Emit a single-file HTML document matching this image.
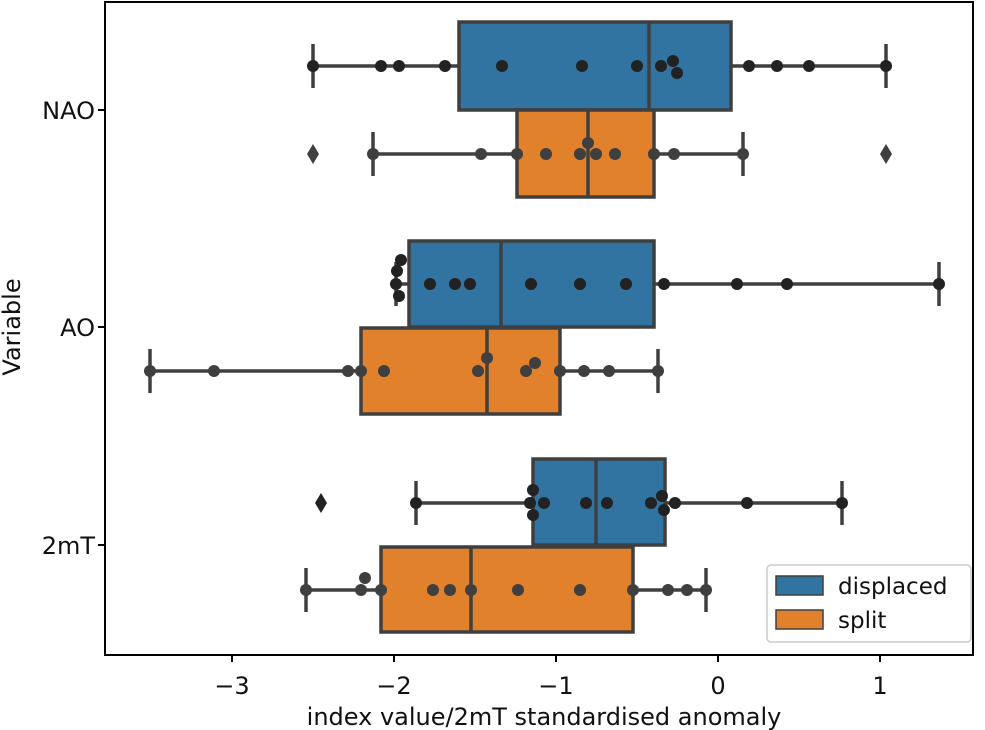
<!DOCTYPE html>
<html><head><style>body{margin:0;background:#fff}svg{display:block}text{font-family:"DejaVu Sans","Liberation Sans",sans-serif;fill:#111}</style></head>
<body>
<svg width="985" height="730" viewBox="0 0 985 730" xmlns="http://www.w3.org/2000/svg">
<g stroke="#3f3f3f" stroke-width="3.5" fill="none">
<line x1="313" y1="66" x2="459" y2="66"/><line x1="731" y1="66" x2="886" y2="66"/>
<line x1="313" y1="44" x2="313" y2="88"/><line x1="886" y1="44" x2="886" y2="88"/>
<rect x="459" y="22" width="272" height="88" fill="#3274a1"/><line x1="649" y1="22" x2="649" y2="110"/>
<line x1="373" y1="154" x2="517" y2="154"/><line x1="654" y1="154" x2="743" y2="154"/>
<line x1="373" y1="132" x2="373" y2="176"/><line x1="743" y1="132" x2="743" y2="176"/>
<rect x="517" y="110" width="137" height="87" fill="#e1812c"/><line x1="588" y1="110" x2="588" y2="197"/>
<line x1="396" y1="284" x2="409" y2="284"/><line x1="654" y1="284" x2="939" y2="284"/>
<line x1="396" y1="262" x2="396" y2="306"/><line x1="939" y1="262" x2="939" y2="306"/>
<rect x="409" y="241" width="245" height="86" fill="#3274a1"/><line x1="501" y1="241" x2="501" y2="327"/>
<line x1="150" y1="371" x2="361" y2="371"/><line x1="560" y1="371" x2="658" y2="371"/>
<line x1="150" y1="349" x2="150" y2="393"/><line x1="658" y1="349" x2="658" y2="393"/>
<rect x="361" y="328" width="199" height="86" fill="#e1812c"/><line x1="487" y1="328" x2="487" y2="414"/>
<line x1="416" y1="503" x2="533" y2="503"/><line x1="665" y1="503" x2="842" y2="503"/>
<line x1="416" y1="481" x2="416" y2="525"/><line x1="842" y1="481" x2="842" y2="525"/>
<rect x="533" y="459" width="132" height="86" fill="#3274a1"/><line x1="596" y1="459" x2="596" y2="545"/>
<line x1="306" y1="590" x2="381" y2="590"/><line x1="633" y1="590" x2="706" y2="590"/>
<line x1="306" y1="568" x2="306" y2="612"/><line x1="706" y1="568" x2="706" y2="612"/>
<rect x="381" y="547" width="252" height="85" fill="#e1812c"/><line x1="471" y1="547" x2="471" y2="632"/>
</g>
<g fill="#3f3f3f">
<polygon points="313,144 319,154 313,164 307,154"/>
<polygon points="886,144 892,154 886,164 880,154"/>
<polygon points="321,493 327,503 321,513 315,503" fill="#222"/>
</g>
<g fill="#222">
<circle cx="313" cy="66" r="6"/><circle cx="381" cy="66" r="6"/><circle cx="399" cy="66" r="6"/><circle cx="445" cy="66" r="6"/><circle cx="502" cy="66" r="6"/><circle cx="582" cy="66" r="6"/><circle cx="637" cy="66" r="6"/><circle cx="661" cy="66" r="6"/><circle cx="673" cy="61" r="6"/><circle cx="677" cy="73" r="6"/><circle cx="749" cy="66" r="6"/><circle cx="777" cy="66" r="6"/><circle cx="809" cy="66" r="6"/><circle cx="886" cy="66" r="6"/>
<circle cx="396" cy="284" r="6"/><circle cx="397" cy="271" r="6"/><circle cx="401" cy="260" r="6"/><circle cx="399" cy="296" r="6"/><circle cx="430" cy="284" r="6"/><circle cx="455" cy="284" r="6"/><circle cx="470" cy="284" r="6"/><circle cx="531" cy="284" r="6"/><circle cx="580" cy="284" r="6"/><circle cx="626" cy="284" r="6"/><circle cx="664" cy="284" r="6"/><circle cx="737" cy="284" r="6"/><circle cx="787" cy="284" r="6"/><circle cx="939" cy="284" r="6"/>
<circle cx="416" cy="503" r="6"/><circle cx="530" cy="503" r="6"/><circle cx="533" cy="490" r="6"/><circle cx="533" cy="515" r="6"/><circle cx="544" cy="503" r="6"/><circle cx="586" cy="503" r="6"/><circle cx="607" cy="503" r="6"/><circle cx="651" cy="503" r="6"/><circle cx="662" cy="496" r="6"/><circle cx="664" cy="510" r="6"/><circle cx="675" cy="503" r="6"/><circle cx="747" cy="503" r="6"/><circle cx="842" cy="503" r="6"/>
</g>
<g fill="#3f3f3f">
<circle cx="373" cy="154" r="6"/><circle cx="481" cy="154" r="6"/><circle cx="517" cy="154" r="6"/><circle cx="546" cy="154" r="6"/><circle cx="580" cy="154" r="6"/><circle cx="588" cy="143" r="6"/><circle cx="596" cy="154" r="6"/><circle cx="615" cy="154" r="6"/><circle cx="654" cy="154" r="6"/><circle cx="674" cy="154" r="6"/><circle cx="743" cy="154" r="6"/>
<circle cx="150" cy="371" r="6"/><circle cx="214" cy="371" r="6"/><circle cx="348" cy="371" r="6"/><circle cx="361" cy="371" r="6"/><circle cx="384" cy="371" r="6"/><circle cx="478" cy="371" r="6"/><circle cx="487" cy="358" r="6"/><circle cx="526" cy="371" r="6"/><circle cx="535" cy="363" r="6"/><circle cx="560" cy="371" r="6"/><circle cx="584" cy="371" r="6"/><circle cx="609" cy="371" r="6"/><circle cx="658" cy="371" r="6"/>
<circle cx="306" cy="590" r="6"/><circle cx="361" cy="590" r="6"/><circle cx="365" cy="578" r="6"/><circle cx="381" cy="590" r="6"/><circle cx="433" cy="590" r="6"/><circle cx="450" cy="590" r="6"/><circle cx="471" cy="590" r="6"/><circle cx="518" cy="590" r="6"/><circle cx="580" cy="590" r="6"/><circle cx="633" cy="590" r="6"/><circle cx="668" cy="590" r="6"/><circle cx="687" cy="590" r="6"/><circle cx="706" cy="590" r="6"/>
</g>
<rect x="105" y="2" width="868" height="653" fill="none" stroke="#000" stroke-width="2"/>
<g stroke="#000" stroke-width="2">
<line x1="98" y1="110" x2="105" y2="110"/><line x1="98" y1="327" x2="105" y2="327"/><line x1="98" y1="545" x2="105" y2="545"/>
<line x1="232" y1="655" x2="232" y2="662"/><line x1="394" y1="655" x2="394" y2="662"/><line x1="556" y1="655" x2="556" y2="662"/><line x1="718" y1="655" x2="718" y2="662"/><line x1="880" y1="655" x2="880" y2="662"/>
</g>
<g font-size="24" text-anchor="end">
<text x="95" y="119">NAO</text><text x="95" y="336">AO</text><text x="95" y="554">2mT</text>
</g>
<g font-size="24" text-anchor="middle">
<text x="232" y="694">−3</text><text x="394" y="694">−2</text><text x="556" y="694">−1</text><text x="718" y="694">0</text><text x="880" y="694">1</text>
<text x="544" y="725">index value/2mT standardised anomaly</text>
<text x="0" y="0" transform="translate(20,327) rotate(-90)">Variable</text>
</g>
<rect x="767" y="565" width="204" height="77" rx="4" fill="#fff" fill-opacity="0.85" stroke="#ccc" stroke-width="1.5"/>
<rect x="776" y="576" width="47" height="19" fill="#3274a1" stroke="#3f3f3f" stroke-width="1.5"/>
<rect x="776" y="610" width="47" height="19" fill="#e1812c" stroke="#3f3f3f" stroke-width="1.5"/>
<g font-size="23"><text x="838" y="594">displaced</text><text x="838" y="628">split</text></g>
</svg>
</body></html>
